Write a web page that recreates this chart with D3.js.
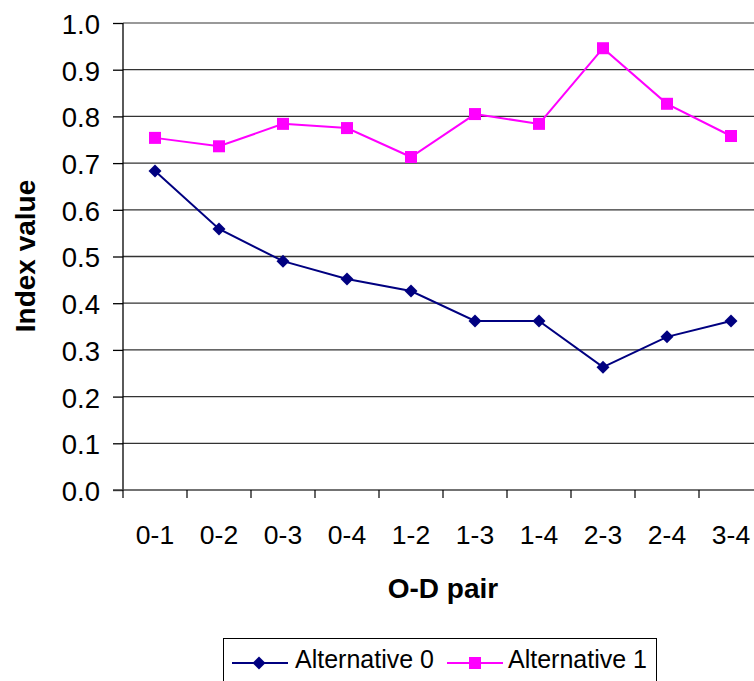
<!DOCTYPE html>
<html><head><meta charset="utf-8">
<script src="https://cdn.jsdelivr.net/npm/d3@7"></script>
<style>body{margin:0;background:#fff}svg{display:block;font-family:"Liberation Sans",Arial,sans-serif}</style>
</head><body>
<svg id="c" width="754" height="681"></svg>
<script>
const categories = ["0-1","0-2","0-3","0-4","1-2","1-3","1-4","2-3","2-4","3-4"];
const alt0 = [0.683,0.559,0.490,0.452,0.426,0.362,0.362,0.263,0.328,0.362];
const alt1 = [0.754,0.736,0.784,0.775,0.713,0.805,0.784,0.946,0.827,0.758];
const yTicks = [0,0.1,0.2,0.3,0.4,0.5,0.6,0.7,0.8,0.9,1.0];
const seriesNames = ["Alternative 0","Alternative 1"];

const svg = d3.select("#c");
const L = 123, R = 763, T = 23, B = 490;
const x = d3.scaleBand().domain(categories).range([L, R]).padding(0);
const y = d3.scaleLinear().domain([0, 1]).range([B, T]);

// gridlines
svg.append("g").selectAll("line").data(yTicks.filter(d => d > 0)).join("line")
  .attr("x1", L).attr("x2", R).attr("y1", d => y(d)).attr("y2", d => y(d))
  .attr("stroke", d => d === 1 ? "#777" : "#333").attr("stroke-width", 1.3);

// y axis
const yAxis = d3.axisLeft(y).tickValues(yTicks).tickFormat(d3.format(".1f")).tickSize(10).tickPadding(13);
const gy = svg.append("g").attr("transform", `translate(${L},0)`).call(yAxis);
gy.select(".domain").attr("stroke", "#000").attr("stroke-width", 1.3).attr("d", `M0,${T}V${B}`);
gy.selectAll(".tick line").attr("stroke", "#000").attr("stroke-width", 1.3);
gy.selectAll("text").attr("font-size", 27.5).attr("fill", "#000").attr("dy", "0.38em")
  .attr("font-family", "Liberation Sans, Arial, sans-serif");

// x axis
const gx = svg.append("g").attr("transform", `translate(0,${B})`);
gx.append("line").attr("x1", L - 10).attr("x2", R).attr("y1", 0).attr("y2", 0).attr("stroke", "#444").attr("stroke-width", 1.5);
const bounds = categories.map(c => x(c)).concat([R]);
gx.selectAll("line.t").data(bounds).join("line").attr("class", "t")
  .attr("x1", d => d).attr("x2", d => d).attr("y1", 0).attr("y2", 8).attr("stroke", "#000").attr("stroke-width", 1.2);
gx.selectAll("text").data(categories).join("text")
  .attr("x", d => x(d) + x.bandwidth() / 2).attr("y", 54).attr("text-anchor", "middle")
  .attr("font-size", 26.5).text(d => d);

// axis titles
svg.append("text").attr("x", 443).attr("y", 598).attr("text-anchor", "middle")
  .attr("font-size", 28).attr("font-weight", "bold").text("O-D pair");
svg.append("text").attr("transform", `translate(35,256) rotate(-90)`).attr("text-anchor", "middle")
  .attr("font-size", 28).attr("font-weight", "bold").text("Index value");

const cx = c => x(c) + x.bandwidth() / 2;
const line = d3.line().x((d, i) => cx(categories[i])).y(d => y(d));
const colors = ["#000080", "#FF00FF"];

svg.append("path").datum(alt0).attr("d", line).attr("fill", "none").attr("stroke", colors[0]).attr("stroke-width", 2);
svg.append("path").datum(alt1).attr("d", line).attr("fill", "none").attr("stroke", colors[1]).attr("stroke-width", 2);

const diamondSym = d3.symbol().type(d3.symbolSquare).size(84);
svg.append("g").selectAll("path").data(alt0).join("path")
  .attr("d", diamondSym).attr("transform", (d, i) => `translate(${cx(categories[i])},${y(d)}) rotate(45)`)
  .attr("fill", colors[0]);
svg.append("g").selectAll("rect").data(alt1).join("rect")
  .attr("x", (d, i) => cx(categories[i]) - 6).attr("y", d => y(d) - 6)
  .attr("width", 12).attr("height", 12).attr("fill", colors[1]);

// legend
const lg = svg.append("g");
lg.append("rect").attr("x", 223.5).attr("y", 638.5).attr("width", 433).attr("height", 50)
  .attr("fill", "#fff").attr("stroke", "#000").attr("stroke-width", 1);
const items = [{x: 232, tx: 295, name: seriesNames[0], c: colors[0], m: "d"}, {x: 447, tx: 508, name: seriesNames[1], c: colors[1], m: "s"}];
items.forEach(it => {
  const ly = 663;
  lg.append("line").attr("x1", it.x).attr("x2", it.x + 56).attr("y1", ly).attr("y2", ly).attr("stroke", it.c).attr("stroke-width", 2);
  if (it.m === "d") {
    lg.append("path").attr("d", diamondSym).attr("transform", `translate(${it.x + 27},${ly}) rotate(45)`).attr("fill", it.c);
  } else {
    lg.append("rect").attr("x", it.x + 28 - 6).attr("y", ly - 6).attr("width", 12).attr("height", 12).attr("fill", it.c);
  }
  lg.append("text").attr("x", it.tx).attr("y", 668).attr("font-size", 25).text(it.name);
});
</script>
</body></html>
